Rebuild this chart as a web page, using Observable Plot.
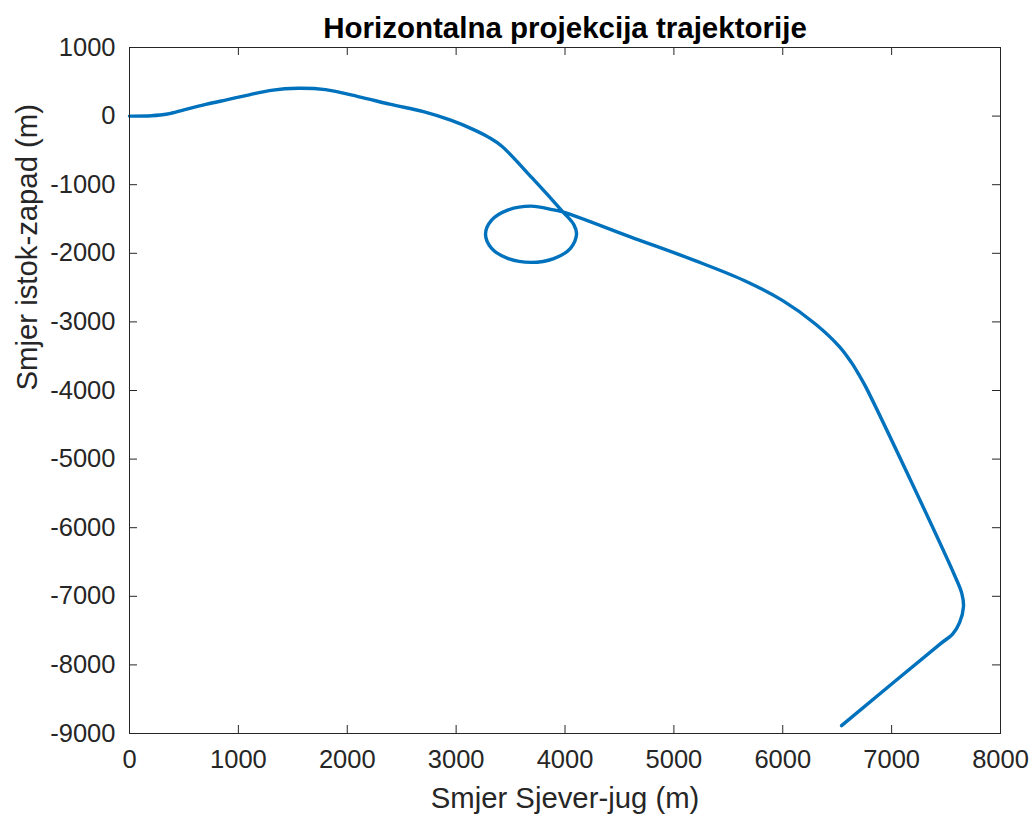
<!DOCTYPE html>
<html>
<head>
<meta charset="utf-8">
<script src="https://cdn.jsdelivr.net/npm/d3@7"></script>
<script src="https://cdn.jsdelivr.net/npm/@observablehq/plot@0.6"></script>
<style>
  html, body { margin: 0; padding: 0; background: #ffffff; overflow: hidden; }
  #chart svg { display: block; }
</style>
</head>
<body>
<div id="chart"></div>
<script>
// Trajectory horizontal projection
const sjeverJug = [
  0, 200, 350, 500, 700, 900, 1100, 1300, 1550, 1800, 2100, 2400, 2700, 2950, 3150, 3300, 3420,
  3700, 3980,
  4081, 4106, 4050, 3897, 3688, 3479, 3326, 3270, 3326, 3479, 3688, 3897, 3980,
  4600, 5200, 5650, 6000, 6300, 6520, 6630, 6700, 6760,
  7580, 7645, 7660, 7625, 7560, 7450, 6540
];
const istokZapad = [
  0, 5, 30, 90, 170, 240, 310, 375, 405, 385, 285, 170, 65, -60, -190, -310, -440,
  -905, -1395,
  -1582, -1722, -1927, -2077, -2132, -2077, -1927, -1722, -1517, -1367, -1312, -1367, -1395,
  -1760, -2110, -2400, -2690, -3030, -3360, -3590, -3770, -3940,
  -6700, -6960, -7150, -7380, -7550, -7690, -8885
];
const xTicks = [0, 1000, 2000, 3000, 4000, 5000, 6000, 7000, 8000];
const yTicks = [1000, 0, -1000, -2000, -3000, -4000, -5000, -6000, -7000, -8000, -9000];
const titleText = "Horizontalna projekcija trajektorije";
const xLabel = "Smjer Sjever-jug (m)";
const yLabel = "Smjer istok-zapad (m)";

const points = sjeverJug.map((x, i) => ({x, y: istokZapad[i]}));

const W = 1033, H = 820;
const mL = 129, mR = 33, mT = 47, mB = 87;
const innerW = W - mL - mR, innerH = H - mT - mB;
const axisColor = "#262626";
const font = "'Liberation Sans', Arial, Helvetica, sans-serif";

const chart = Plot.plot({
  width: W,
  height: H,
  marginLeft: mL,
  marginRight: mR,
  marginTop: mT,
  marginBottom: mB,
  x: {domain: [0, 8000], axis: null},
  y: {domain: [-9000, 1000], axis: null},
  style: {fontFamily: font, background: "#ffffff", color: axisColor},
  marks: [
    Plot.tickX(xTicks, {x: d => d, insetTop: innerH - 8, stroke: axisColor, strokeWidth: 1}),
    Plot.tickX(xTicks, {x: d => d, insetBottom: innerH - 8, stroke: axisColor, strokeWidth: 1}),
    Plot.tickY(yTicks, {y: d => d, insetRight: innerW - 8, stroke: axisColor, strokeWidth: 1}),
    Plot.tickY(yTicks, {y: d => d, insetLeft: innerW - 8, stroke: axisColor, strokeWidth: 1}),
    Plot.axisX(xTicks, {anchor: "bottom", tickSize: 0, tickPadding: 16, fontSize: 25.5, label: null, tickFormat: d => String(d), fill: axisColor}),
    Plot.axisY(yTicks, {anchor: "left", tickSize: 0, tickPadding: 14, fontSize: 25.5, label: null, tickFormat: d => String(d), fill: axisColor}),
    Plot.line(points, {x: "x", y: "y", stroke: "#0072BD", strokeWidth: 3.4, curve: "catmull-rom"}),
    Plot.frame({stroke: axisColor, strokeWidth: 1}),
    Plot.text([titleText], {text: d => d, frameAnchor: "top", lineAnchor: "middle", dy: -19, fontSize: 29.5, fontWeight: "bold", fill: "#000000"}),
    Plot.text([xLabel], {text: d => d, frameAnchor: "bottom", lineAnchor: "middle", dy: 65, fontSize: 29.3, fill: axisColor}),
    Plot.text([yLabel], {text: d => d, frameAnchor: "left", lineAnchor: "middle", dx: -102, rotate: -90, fontSize: 29.3, fill: axisColor})
  ]
});
document.getElementById("chart").appendChild(chart);
</script>
</body>
</html>
